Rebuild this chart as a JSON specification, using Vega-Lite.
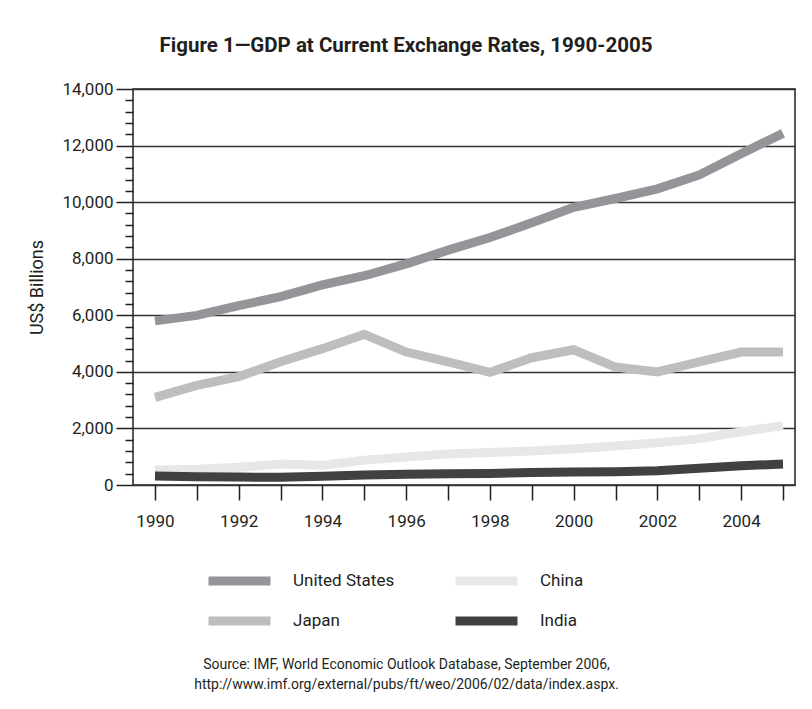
{
  "$schema": "https://vega.github.io/schema/vega-lite/v6.json",
  "width": 662,
  "height": 396,
  "autosize": {"type": "none"},
  "padding": {"left": 133, "top": 89, "right": 17, "bottom": 224},
  "background": "white",
  "title": {
    "text": "Figure 1—GDP at Current Exchange Rates, 1990-2005",
    "font": "Roboto, sans-serif",
    "fontWeight": "bold",
    "fontSize": 20.5,
    "color": "#231f20",
    "anchor": "middle",
    "frame": "group",
    "dx": -58,
    "offset": 24
  },
  "config": {
    "view": {"stroke": "#231f20", "strokeWidth": 1.5},
    "font": "Roboto, sans-serif"
  },
  "data": {
    "values": [
      {"year": 1990, "country": "United States", "gdp": 5803},
      {"year": 1991, "country": "United States", "gdp": 5996},
      {"year": 1992, "country": "United States", "gdp": 6338},
      {"year": 1993, "country": "United States", "gdp": 6657},
      {"year": 1994, "country": "United States", "gdp": 7072},
      {"year": 1995, "country": "United States", "gdp": 7398},
      {"year": 1996, "country": "United States", "gdp": 7817},
      {"year": 1997, "country": "United States", "gdp": 8304},
      {"year": 1998, "country": "United States", "gdp": 8747},
      {"year": 1999, "country": "United States", "gdp": 9268},
      {"year": 2000, "country": "United States", "gdp": 9817},
      {"year": 2001, "country": "United States", "gdp": 10128},
      {"year": 2002, "country": "United States", "gdp": 10470},
      {"year": 2003, "country": "United States", "gdp": 10961},
      {"year": 2004, "country": "United States", "gdp": 11713},
      {"year": 2005, "country": "United States", "gdp": 12430},
      {"year": 1990, "country": "Japan", "gdp": 3100},
      {"year": 1991, "country": "Japan", "gdp": 3520},
      {"year": 1992, "country": "Japan", "gdp": 3830},
      {"year": 1993, "country": "Japan", "gdp": 4360},
      {"year": 1994, "country": "Japan", "gdp": 4820},
      {"year": 1995, "country": "Japan", "gdp": 5330},
      {"year": 1996, "country": "Japan", "gdp": 4700},
      {"year": 1997, "country": "Japan", "gdp": 4350},
      {"year": 1998, "country": "Japan", "gdp": 3980},
      {"year": 1999, "country": "Japan", "gdp": 4500},
      {"year": 2000, "country": "Japan", "gdp": 4780},
      {"year": 2001, "country": "Japan", "gdp": 4170},
      {"year": 2002, "country": "Japan", "gdp": 4000},
      {"year": 2003, "country": "Japan", "gdp": 4350},
      {"year": 2004, "country": "Japan", "gdp": 4700},
      {"year": 2005, "country": "Japan", "gdp": 4700},
      {"year": 1990, "country": "China", "gdp": 530},
      {"year": 1991, "country": "China", "gdp": 560},
      {"year": 1992, "country": "China", "gdp": 630},
      {"year": 1993, "country": "China", "gdp": 740},
      {"year": 1994, "country": "China", "gdp": 700},
      {"year": 1995, "country": "China", "gdp": 880},
      {"year": 1996, "country": "China", "gdp": 990},
      {"year": 1997, "country": "China", "gdp": 1100},
      {"year": 1998, "country": "China", "gdp": 1150},
      {"year": 1999, "country": "China", "gdp": 1200},
      {"year": 2000, "country": "China", "gdp": 1280},
      {"year": 2001, "country": "China", "gdp": 1380},
      {"year": 2002, "country": "China", "gdp": 1490},
      {"year": 2003, "country": "China", "gdp": 1640},
      {"year": 2004, "country": "China", "gdp": 1880},
      {"year": 2005, "country": "China", "gdp": 2100},
      {"year": 1990, "country": "India", "gdp": 320},
      {"year": 1991, "country": "India", "gdp": 290},
      {"year": 1992, "country": "India", "gdp": 280},
      {"year": 1993, "country": "India", "gdp": 270},
      {"year": 1994, "country": "India", "gdp": 310},
      {"year": 1995, "country": "India", "gdp": 350},
      {"year": 1996, "country": "India", "gdp": 380},
      {"year": 1997, "country": "India", "gdp": 400},
      {"year": 1998, "country": "India", "gdp": 410},
      {"year": 1999, "country": "India", "gdp": 440},
      {"year": 2000, "country": "India", "gdp": 460},
      {"year": 2001, "country": "India", "gdp": 470},
      {"year": 2002, "country": "India", "gdp": 500},
      {"year": 2003, "country": "India", "gdp": 590},
      {"year": 2004, "country": "India", "gdp": 680},
      {"year": 2005, "country": "India", "gdp": 740}
    ]
  },
  "mark": {"type": "line", "strokeWidth": 9, "strokeCap": "butt", "strokeJoin": "miter"},
  "encoding": {
    "x": {
      "field": "year",
      "type": "quantitative",
      "scale": {"domain": [1989.475, 2005.287], "nice": false, "zero": false},
      "axis": {
        "values": [1990, 1991, 1992, 1993, 1994, 1995, 1996, 1997, 1998, 1999, 2000, 2001, 2002, 2003, 2004, 2005],
        "format": "d",
        "labelExpr": "datum.value % 2 == 0 ? datum.label : ''",
        "labelOverlap": false,
        "labelFlush": false,
        "labelFontSize": 17,
        "labelColor": "#231f20",
        "labelPadding": 13,
        "tickSize": 15,
        "tickWidth": 1.5,
        "tickColor": "#231f20",
        "domain": false,
        "grid": false,
        "title": ["Source: IMF, World Economic Outlook Database, September 2006,", "http://www.imf.org/external/pubs/ft/weo/2006/02/data/index.aspx."],
        "titleFontSize": 14,
        "titleFontWeight": "normal",
        "titleColor": "#231f20",
        "titleLineHeight": 20,
        "titleX": 273,
        "titleY": 172,
        "titleAlign": "center",
        "titleBaseline": "top"
      }
    },
    "y": {
      "field": "gdp",
      "type": "quantitative",
      "scale": {"domain": [0, 14000], "nice": false},
      "axis": {
        "values": [0, 400, 800, 1200, 1600, 2000, 2400, 2800, 3200, 3600, 4000, 4400, 4800, 5200, 5600, 6000, 6400, 6800, 7200, 7600, 8000, 8400, 8800, 9200, 9600, 10000, 10400, 10800, 11200, 11600, 12000, 12400, 12800, 13200, 13600, 14000],
        "format": ",d",
        "labelExpr": "datum.value % 2000 == 0 ? datum.label : ''",
        "labelOverlap": false,
        "labelFontSize": 17,
        "labelColor": "#231f20",
        "labelPadding": 3,
        "tickSize": {"condition": {"test": "datum.value % 2000 == 0", "value": 17}, "value": 8},
        "tickWidth": 1.5,
        "tickColor": "#231f20",
        "domain": false,
        "grid": true,
        "gridColor": "#333333",
        "gridWidth": 1.3,
        "gridOpacity": {"condition": {"test": "datum.value % 2000 == 0", "value": 1}, "value": 0},
        "title": "US$ Billions",
        "titleFontSize": 18,
        "titleFontWeight": "normal",
        "titleColor": "#231f20",
        "titleX": -96,
        "titleBaseline": "middle"
      }
    },
    "color": {
      "field": "country",
      "type": "nominal",
      "scale": {
        "domain": ["United States", "Japan", "China", "India"],
        "range": ["#939598", "#bcbec0", "#e6e7e8", "#414042"]
      },
      "legend": {
        "orient": "none",
        "legendX": 71,
        "legendY": 477,
        "columns": 2,
        "title": null,
        "symbolType": "stroke",
        "symbolSize": 3844,
        "symbolStrokeWidth": 9,
        "labelFontSize": 17,
        "labelColor": "#231f20",
        "labelOffset": 18,
        "columnPadding": 56,
        "rowPadding": 10,
        "clipHeight": 30,
        "padding": 0
      }
    }
  }
}
